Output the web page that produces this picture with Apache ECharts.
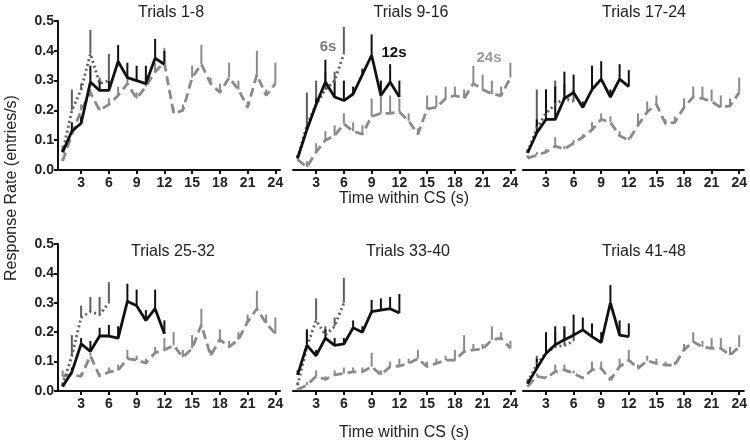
<!DOCTYPE html>
<html>
<head>
<meta charset="utf-8">
<script src="https://cdn.jsdelivr.net/npm/echarts@6/dist/echarts.min.js"></script>
<style>
  html, body { margin: 0; padding: 0; background: #fff; }
  #main { width: 750px; height: 445px; }
</style>
</head>
<body>
<div id="main"></div>
<script>
// panel titles and x ticks
var panelTitles = ['Trials 1-8', 'Trials 9-16', 'Trials 17-24', 'Trials 25-32', 'Trials 33-40', 'Trials 41-48'];
var xTicks = [3, 6, 9, 12, 15, 18, 21, 24];

// 6s CS, mean rate per second bin, one array per panel
var rate6 = [
  [0.06, 0.2, 0.27, 0.39, 0.29, 0.3],
  [0.04, 0.15, 0.22, 0.27, 0.3, 0.39],
  [0.06, 0.14, 0.19, 0.22, 0.24, 0.23],
  [0.02, 0.12, 0.25, 0.27, 0.26, 0.3],
  [0.02, 0.15, 0.24, 0.19, 0.22, 0.3],
  [0.03, 0.09, 0.13, 0.15, 0.155, 0.17]
];
var top6 = [
  [0.08, 0.27, 0.29, 0.47, 0.31, 0.39],
  [0.05, 0.26, 0.3, 0.33, 0.33, 0.48],
  [0.07, 0.27, 0.27, 0.3, 0.29, 0.27],
  [0.03, 0.19, 0.29, 0.32, 0.32, 0.37],
  [0.03, 0.2, 0.315, 0.22, 0.25, 0.385],
  [0.04, 0.12, 0.18, 0.2, 0.21, 0.2]
];

// 12s CS
var rate12 = [
  [0.06, 0.13, 0.157, 0.295, 0.267, 0.267, 0.364, 0.31, 0.30, 0.29, 0.375, 0.355],
  [0.04, 0.135, 0.22, 0.295, 0.245, 0.233, 0.255, 0.32, 0.385, 0.25, 0.295, 0.245],
  [0.057, 0.125, 0.17, 0.17, 0.24, 0.26, 0.21, 0.27, 0.305, 0.245, 0.305, 0.28],
  [0.015, 0.065, 0.16, 0.135, 0.187, 0.187, 0.18, 0.305, 0.29, 0.24, 0.28, 0.195],
  [0.055, 0.155, 0.12, 0.18, 0.155, 0.16, 0.215, 0.2, 0.27, 0.275, 0.28, 0.265],
  [0.025, 0.077, 0.128, 0.157, 0.174, 0.19, 0.208, 0.185, 0.165, 0.3, 0.19, 0.185]
];
var top12 = [
  [0.07, 0.16, 0.18, 0.35, 0.30, 0.30, 0.42, 0.36, 0.35, 0.35, 0.44, 0.40],
  [0.05, 0.15, 0.24, 0.37, 0.3, 0.3, 0.28, 0.34, 0.455, 0.3, 0.355, 0.3],
  [0.06, 0.17, 0.27, 0.28, 0.33, 0.32, 0.23, 0.35, 0.365, 0.27, 0.355, 0.335],
  [0.02, 0.08, 0.18, 0.17, 0.215, 0.225, 0.22, 0.365, 0.345, 0.275, 0.345, 0.24],
  [0.07, 0.21, 0.14, 0.21, 0.18, 0.18, 0.24, 0.22, 0.31, 0.315, 0.32, 0.33],
  [0.03, 0.11, 0.2, 0.22, 0.22, 0.26, 0.25, 0.23, 0.2, 0.36, 0.24, 0.23]
];

// 24s CS
var rate24 = [
  [0.03, 0.12, 0.2, 0.26, 0.2, 0.22, 0.25, 0.29, 0.24, 0.28, 0.33, 0.36, 0.19, 0.2, 0.31, 0.355, 0.29, 0.26, 0.31, 0.27, 0.21, 0.32, 0.25, 0.29],
  [0.035, 0.01, 0.06, 0.1, 0.115, 0.155, 0.13, 0.12, 0.18, 0.19, 0.19, 0.195, 0.165, 0.12, 0.205, 0.21, 0.24, 0.25, 0.24, 0.29, 0.27, 0.255, 0.25, 0.31],
  [0.04, 0.05, 0.06, 0.08, 0.07, 0.09, 0.11, 0.135, 0.17, 0.16, 0.115, 0.1, 0.15, 0.195, 0.22, 0.155, 0.16, 0.21, 0.245, 0.24, 0.23, 0.21, 0.215, 0.26],
  [0.05, 0.055, 0.05, 0.12, 0.05, 0.065, 0.07, 0.11, 0.105, 0.095, 0.13, 0.14, 0.155, 0.115, 0.145, 0.225, 0.12, 0.175, 0.15, 0.175, 0.235, 0.28, 0.23, 0.195],
  [0.005, 0.02, 0.05, 0.04, 0.055, 0.06, 0.065, 0.065, 0.083, 0.055, 0.083, 0.085, 0.094, 0.11, 0.083, 0.094, 0.105, 0.105, 0.134, 0.14, 0.142, 0.174, 0.18, 0.145],
  [0.015, 0.05, 0.044, 0.066, 0.072, 0.06, 0.044, 0.072, 0.077, 0.038, 0.083, 0.105, 0.077, 0.103, 0.094, 0.088, 0.088, 0.14, 0.168, 0.15, 0.145, 0.145, 0.122, 0.15]
];
var top24 = [
  [0.04, 0.14, 0.22, 0.27, 0.21, 0.24, 0.28, 0.32, 0.26, 0.31, 0.36, 0.41, 0.21, 0.22, 0.35, 0.42, 0.31, 0.29, 0.36, 0.3, 0.23, 0.4, 0.27, 0.36],
  [0.05, 0.03, 0.09, 0.13, 0.15, 0.19, 0.16, 0.15, 0.24, 0.25, 0.25, 0.24, 0.19, 0.14, 0.25, 0.25, 0.28, 0.28, 0.27, 0.35, 0.32, 0.3, 0.28, 0.36],
  [0.05, 0.06, 0.07, 0.11, 0.08, 0.1, 0.12, 0.16, 0.19, 0.18, 0.13, 0.11, 0.19, 0.23, 0.25, 0.17, 0.18, 0.24, 0.28, 0.28, 0.27, 0.25, 0.24, 0.31],
  [0.07, 0.06, 0.06, 0.13, 0.06, 0.08, 0.09, 0.14, 0.12, 0.11, 0.15, 0.18, 0.2, 0.14, 0.19, 0.28, 0.14, 0.21, 0.17, 0.2, 0.26, 0.34, 0.26, 0.25],
  [0.01, 0.03, 0.07, 0.05, 0.07, 0.08, 0.08, 0.08, 0.13, 0.07, 0.1, 0.11, 0.11, 0.14, 0.1, 0.11, 0.12, 0.14, 0.19, 0.16, 0.16, 0.22, 0.2, 0.17],
  [0.02, 0.06, 0.05, 0.09, 0.09, 0.07, 0.05, 0.1, 0.1, 0.05, 0.11, 0.14, 0.09, 0.12, 0.11, 0.1, 0.1, 0.16, 0.2, 0.17, 0.18, 0.18, 0.15, 0.19]
];

var FONT = '"Liberation Sans", Arial, sans-serif';
var c6 = '#5e5e5e', c12 = '#111', c24 = '#8a8a8a';

var chart = echarts.init(document.getElementById('main'));

var lefts = [58, 293, 523];
var titleX = [171, 411, 644, 173, 408, 644];
var grids = [], xAxes = [], yAxes = [], series = [], titles = [];
for (var p = 0; p < 6; p++) {
  var row = p < 3 ? 0 : 1;
  var col = p % 3;
  grids.push({
    left: lefts[col], width: 222,
    top: row == 0 ? 21 : 244,
    height: row == 0 ? 149 : 147
  });
  xAxes.push({
    type: 'value', gridIndex: p, min: 0.5, max: 24.5,
    splitLine: { show: false },
    axisLine: { lineStyle: { color: '#111', width: 2 } },
    axisTick: { length: 4, lineStyle: { color: '#111', width: 2 }, customValues: xTicks },
    axisLabel: { customValues: xTicks, color: '#222', fontSize: 14, fontWeight: 'bold', fontFamily: FONT, margin: 6 },
    name: col == 1 ? 'Time within CS (s)' : '',
    nameLocation: 'middle',
    nameGap: row == 0 ? 15 : 34,
    nameTextStyle: { fontSize: 16, color: '#222', fontFamily: FONT }
  });
  yAxes.push({
    type: 'value', gridIndex: p, min: 0, max: 0.5, interval: 0.1,
    show: col == 0,
    splitLine: { show: false },
    axisLine: { show: true, lineStyle: { color: '#111', width: 2 } },
    axisTick: { show: true, length: 4, lineStyle: { color: '#111', width: 2 } },
    axisLabel: { color: '#222', fontSize: 14, fontWeight: 'bold', fontFamily: FONT, margin: 4,
      formatter: function (v) { return v.toFixed(1); } }
  });
  titles.push({
    text: panelTitles[p],
    left: titleX[p],
    top: row == 0 ? 5 : 244,
    padding: 0,
    textAlign: 'center',
    textStyle: { fontSize: 16, fontWeight: 'normal', color: '#222', fontFamily: FONT }
  });

  var groups = [
    { rate: rate24[p], top: top24[p], color: c24, type: [9, 5] },
    { rate: rate6[p], top: top6[p], color: c6, type: [2, 3] },
    { rate: rate12[p], top: top12[p], color: c12, type: 'solid' }
  ];
  groups.forEach(function (g) {
    var pts = g.rate.map(function (v, i) { return [i + 1, v]; });
    var bars = g.rate.map(function (v, i) { return [i + 1, v, g.top[i]]; });
    series.push({
      type: 'custom', xAxisIndex: p, yAxisIndex: p, silent: true,
      data: bars,
      renderItem: function (params, api) {
        var a = api.coord([api.value(0), api.value(1)]);
        var b = api.coord([api.value(0), api.value(2)]);
        return { type: 'line', shape: { x1: a[0], y1: a[1], x2: b[0], y2: b[1] },
          style: { stroke: g.color, lineWidth: 2 } };
      }
    });
    series.push({
      type: 'line', xAxisIndex: p, yAxisIndex: p, data: pts,
      symbol: 'none', silent: true,
      lineStyle: { color: g.color, width: 2.8, type: g.type }
    });
  });
}

chart.setOption({
  animation: false,
  backgroundColor: '#fff',
  title: titles,
  grid: grids,
  xAxis: xAxes,
  yAxis: yAxes,
  series: series,
  graphic: [
    { type: 'text', x: 12, y: 188, rotation: Math.PI / 2,
      style: { text: 'Response Rate (entries/s)', fill: '#222', font: '16px ' + FONT,
        textAlign: 'center', textVerticalAlign: 'middle' } },
    { type: 'text', x: 328, y: 47,
      style: { text: '6s', fill: '#7a7a7a', font: 'bold 15px ' + FONT, textAlign: 'center', textVerticalAlign: 'middle' } },
    { type: 'text', x: 394, y: 53,
      style: { text: '12s', fill: '#111', font: 'bold 15px ' + FONT, textAlign: 'center', textVerticalAlign: 'middle' } },
    { type: 'text', x: 489, y: 58,
      style: { text: '24s', fill: '#9a9a9a', font: 'bold 15px ' + FONT, textAlign: 'center', textVerticalAlign: 'middle' } }
  ]
});
</script>
</body>
</html>
